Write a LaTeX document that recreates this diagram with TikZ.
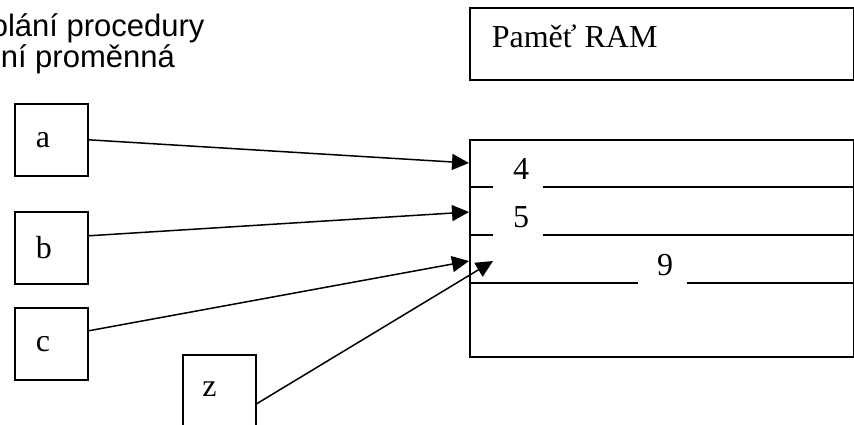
\documentclass[tikz,border=0pt]{standalone}
\usepackage{fontspec}
\setmainfont{Liberation Serif}
\newfontfamily\arialfont{Liberation Sans}
\usetikzlibrary{arrows.meta}

\begin{document}
\begin{tikzpicture}[x=1pt,y=-1pt,
  line width=1.6pt,
  varbox/.style={draw, rectangle, anchor=north west, minimum height=72pt,
    inner xsep=21pt, inner ysep=0pt, text width=31pt, align=left,
    font=\fontsize{32}{38}\selectfont},
  frame/.style={draw, rectangle, anchor=north west, inner sep=0pt},
  ptr/.style={-{Triangle[length=17pt,width=16pt]}, line width=1.5pt},
  cell/.style={inner sep=0pt, font=\fontsize{32}{38}\selectfont},
  heading/.style={anchor=base west, inner sep=0pt,
    font=\arialfont\fontsize{31}{36}\selectfont}]
\useasboundingbox (0,0) rectangle (854,425);
\clip (0,0) rectangle (854,425);
\fill[white] (0,0) rectangle (854,425);

% heading text
\node[heading] (h1) at (-10,37) {olání procedury};
\node[heading] (h2) at (0,68) {ní proměnná};

% RAM title box
\node[frame, minimum width=384pt, minimum height=72pt] (title) at (469,7) {};
\node[cell, anchor=base west] (ramlabel) at (491,48) {Paměť RAM};

% memory block with its cells
\node[frame, minimum width=384pt, minimum height=217pt] (ram) at (469,139) {};
\draw (469,187) -- (493,187) (543,187) -- (853,187);
\draw (469,235) -- (493,235) (543,235) -- (853,235);
\draw (469,283) -- (638,283) (687,283) -- (853,283);
\node[cell, anchor=base] (v4) at (521,179) {4};
\node[cell, anchor=base] (v5) at (521,227) {5};
\node[cell, anchor=base] (v9) at (665,275) {9};

% variables
\node[varbox, minimum width=73pt] (a) at (14,103) {a};
\node[varbox, minimum width=73pt] (b) at (14,211) {b};
\node[varbox, minimum width=73pt] (c) at (14,307) {c};
\node[varbox, minimum width=72pt, minimum height=76pt] (z) at (182,354) {};
\node[cell, anchor=base] (zl) at (209.5,396) {z};

% pointer targets
\coordinate (ta) at (469,163);
\coordinate (tb) at (469,212);
\coordinate (tc) at (469,261);
\coordinate (tz) at (493,261);

% pointers
\draw[ptr] (a.east) -- (ta);
\draw[ptr] ([yshift=12pt]b.east) -- (tb);
\draw[ptr] ([yshift=13pt]c.east) -- (tc);
\draw[ptr] ([yshift=-11pt]z.east) -- (tz);
\end{tikzpicture}
\end{document}
